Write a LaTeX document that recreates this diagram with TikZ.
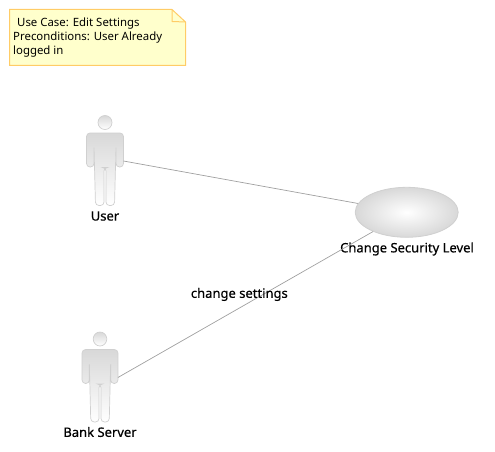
\documentclass[tikz,border=0pt]{standalone}
\usepackage{fontspec}
\setmainfont{Noto Sans}
\newfontfamily\labelfont[FakeBold=0.5]{Noto Sans}
\definecolor{notefill}{HTML}{FFFFCC}
\definecolor{noteline}{HTML}{FFCC66}
\definecolor{shapeline}{HTML}{D0D0D0}
\definecolor{shapedark}{HTML}{D8D8D8}
\definecolor{assocline}{HTML}{A0A0A0}
\tikzset{
  notebox/.style={draw=noteline,fill=notefill,line width=1pt},
  bodyshape/.style={draw=shapeline,top color=shapedark,bottom color=white,line width=0.7pt},
  usecaseshape/.style={ellipse,draw=shapeline,inner color=white,outer color=shapedark,
    line width=0.8pt,minimum width=103pt,minimum height=50pt,inner sep=0pt},
  assoc/.style={draw=assocline,line width=0.7pt},
  caption/.style={font=\labelfont\fontsize{13}{14}\selectfont,inner sep=0pt,text=black},
  notetext/.style={font=\fontsize{11.4}{14}\selectfont,inner sep=0pt,text=black},
  actor/.pic={
    \path[bodyshape] (0,0) circle (7);
    \path[bodyshape,rounded corners=3.5pt] (-18.5,10.5) -- (18.5,10.5) -- (18.5,44.5)
      -- (11,44.5) -- (11,23) -- (10.5,44) -- (9.5,83) -- (1,83) -- (1,45) -- (-1,45)
      -- (-1,83) -- (-9.5,83) -- (-10.5,44) -- (-11,23) -- (-11,44.5) -- (-18.5,44.5) -- cycle;
    \coordinate (-hand) at (18.5,38.5);
  }
}
\usetikzlibrary{shapes.geometric}
\begin{document}
\begin{tikzpicture}[x=1pt,y=-1pt]
  \useasboundingbox (0,0) rectangle (495,452);
  % note
  \draw[notebox] (9.5,9.5) -- (172,9.5) -- (185.5,22) -- (185.5,65.5) -- (9.5,65.5) -- cycle;
  \draw[notebox,fill=none] (172,9.5) -- (172,21.5) -- (185.5,22);
  \node[notetext,anchor=north west,align=left] (note) at (13,18)
    {\hspace{4pt}Use Case: Edit Settings\\Preconditions: User Already\\logged in};
  % actors
  \pic (user) at (105,122.5) {actor};
  \node[caption] (userlabel) at (105,216) {User};
  \pic[xscale=0.97] (bank) at (100,339) {actor};
  \node[caption] (banklabel) at (100,432) {Bank Server};
  % use case
  \node[usecaseshape] (usecase) at (406.7,212.3) {};
  \node[caption] (usecaselabel) at (407,249) {Change Security Level};
  % associations
  \draw[assoc] (user-hand) -- (usecase);
  \draw[assoc] (bank-hand) -- node[caption,pos=0.48,xshift=-1pt,yshift=13pt] (assoclabel) {change settings} (usecase);
\end{tikzpicture}
\end{document}
